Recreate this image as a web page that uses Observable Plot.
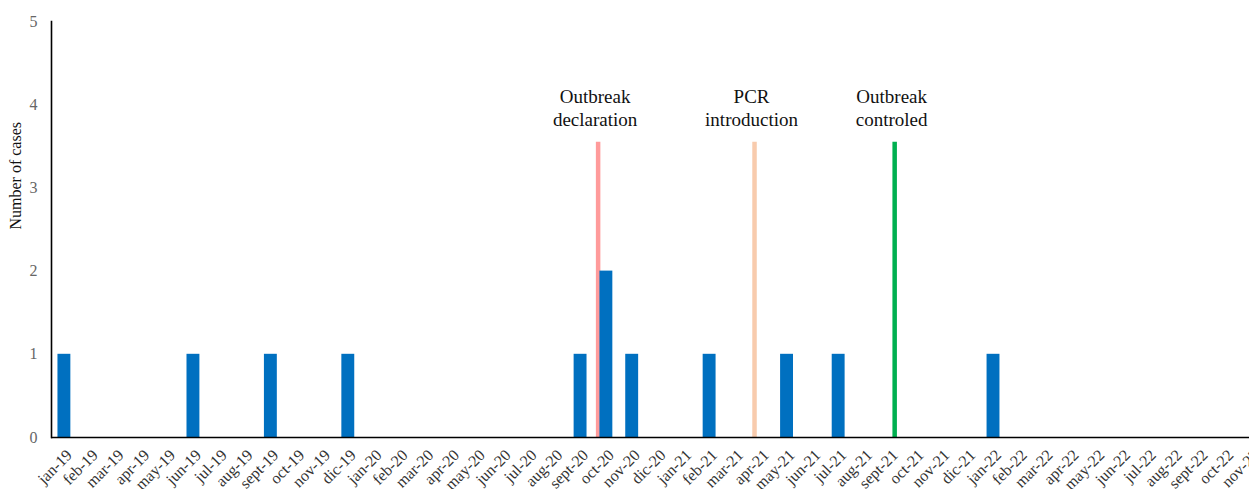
<!DOCTYPE html>
<html><head><meta charset="utf-8">
<script src="https://cdn.jsdelivr.net/npm/d3@7"></script>
<script src="https://cdn.jsdelivr.net/npm/@observablehq/plot@0.6"></script>
<style>body{margin:0;background:#fff;overflow:hidden} #chart svg{overflow:visible}</style>
</head><body><div id="chart"></div>
<script>
const months = [
  "jan-19","feb-19","mar-19","apr-19","may-19","jun-19","jul-19","aug-19","sept-19","oct-19","nov-19","dic-19",
  "jan-20","feb-20","mar-20","apr-20","may-20","jun-20","jul-20","aug-20","sept-20","oct-20","nov-20","dic-20",
  "jan-21","feb-21","mar-21","apr-21","may-21","jun-21","jul-21","aug-21","sept-21","oct-21","nov-21","dic-21",
  "jan-22","feb-22","mar-22","apr-22","may-22","jun-22","jul-22","aug-22","sept-22","oct-22","nov-22"
];
const cases = [
  1,0,0,0,0,1,0,0,1,0,0,1,
  0,0,0,0,0,0,0,0,1,2,1,0,
  0,1,0,0,1,0,1,0,0,0,0,0,
  1,0,0,0,0,0,0,0,0,0,0
];
const eventLabels = ["Outbreak\ndeclaration", "PCR\nintroduction", "Outbreak\ncontroled"];
const eventMonthPos = [20.68, 26.74, 32.17];   // fractional month index on the category axis
const eventColors = ["#FF9B9B", "#F8CBAD", "#00B050"];
const eventLineTop = 3.55;
const yTicks = [0, 1, 2, 3, 4, 5];

const monthData = months.map((m, i) => ({i, month: m, cases: cases[i]}));
const eventData = eventLabels.map((label, k) => ({label, pos: eventMonthPos[k], color: eventColors[k]}));

const serif = "'Liberation Serif', 'Times New Roman', serif";

const chart = Plot.plot({
  width: 1249,
  height: 489,
  marginLeft: 51,
  marginRight: 0,
  marginTop: 21,
  marginBottom: 52,
  style: {fontFamily: serif, background: "#fff", overflow: "visible"},
  x: {domain: [-0.5, months.length - 0.5], range: [51, 1264]},
  y: {domain: [0, 5]},
  marks: [
    Plot.ruleX(eventData, {x: "pos", y1: 0, y2: eventLineTop, stroke: "color", strokeWidth: 4.5}),
    Plot.rectY(monthData.filter(d => d.cases > 0), {
      x1: d => d.i - 0.25, x2: d => d.i + 0.25, y: "cases", fill: "#0070C0"
    }),
    Plot.text(eventData, {
      x: "pos", y: eventLineTop, text: "label", lineAnchor: "bottom", dy: -16, dx: -3,
      fontSize: 19, fill: "#111", lineHeight: 1.2
    }),
    Plot.axisX({
      ticks: d3.range(months.length), tickFormat: i => months[i], tickRotate: -45,
      tickSize: 0, tickPadding: 15, dx: 5, fontSize: 16, fill: "#333", label: null
    }),
    Plot.axisY({
      ticks: yTicks, tickFormat: d3.format("d"), tickSize: 0, tickPadding: 14, fontSize: 16, fill: "#666",
      label: null
    }),
    Plot.text(["Number of cases"], {
      frameAnchor: "left", dx: -36, rotate: -90, fontSize: 16, fill: "#111", text: d => d
    }),
    Plot.ruleY([0], {stroke: "#000", strokeWidth: 1.6}),
    Plot.frame({anchor: "left", stroke: "#000", strokeWidth: 1.6})
  ]
});
document.getElementById("chart").appendChild(chart);
</script>
</body></html>
